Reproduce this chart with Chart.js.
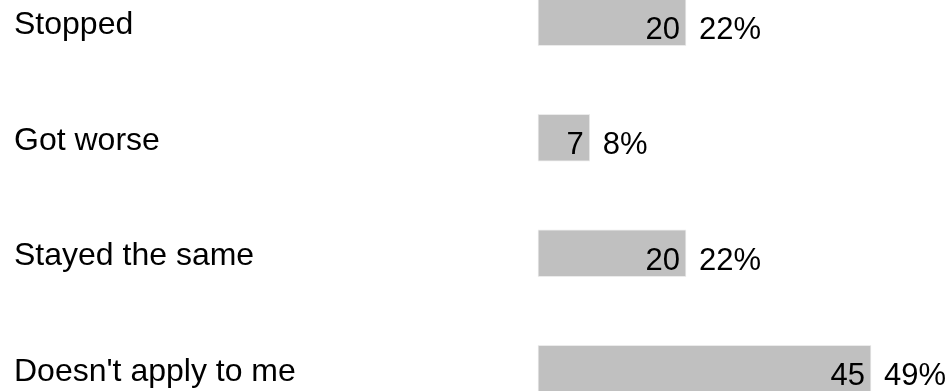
<!DOCTYPE html>
<html>
<head>
<meta charset="utf-8">
<script src="https://cdn.jsdelivr.net/npm/chart.js@4/dist/chart.umd.min.js"></script>
<style>
  html, body { margin: 0; padding: 0; background: #fff; overflow: hidden; }
  #wrap { width: 951px; height: 391px; position: relative; }
</style>
</head>
<body>
<div id="wrap"><canvas id="answers"></canvas></div>
<script>
// values
const categories = ['Stopped', 'Got worse', 'Stayed the same', "Doesn't apply to me"];
const counts = [20, 7, 20, 45];
const shares = ['22%', '8%', '22%', '49%'];

const FONT = '"Liberation Sans", Arial, sans-serif';

// value inside the bar end, share just outside it
const barLabels = {
  id: 'barLabels',
  afterDatasetsDraw(chart) {
    const ctx = chart.ctx;
    const meta = chart.getDatasetMeta(0);
    ctx.save();
    ctx.font = '31px ' + FONT;
    ctx.fillStyle = '#000';
    ctx.textBaseline = 'alphabetic';
    meta.data.forEach((bar, i) => {
      const y = bar.y + 16.5;
      ctx.textAlign = 'right';
      ctx.fillText(String(counts[i]), bar.x - 6, y);
      ctx.textAlign = 'left';
      ctx.fillText(shares[i], bar.x + 13, y);
    });
    ctx.restore();
  }
};

new Chart(document.getElementById('answers'), {
  type: 'bar',
  data: {
    labels: categories,
    datasets: [{
      data: counts,
      backgroundColor: '#c0c0c0',
      borderColor: '#ebebeb',
      borderWidth: 1,
      borderSkipped: false,
      barThickness: 47,
      clip: false
    }]
  },
  options: {
    indexAxis: 'y',
    responsive: true,
    maintainAspectRatio: false,
    animation: false,
    layout: { padding: { left: 14, right: 43, top: 20, bottom: 22 } },
    plugins: {
      legend: { display: false },
      tooltip: { enabled: false },
      title: { display: false }
    },
    scales: {
      x: {
        display: false,
        min: 0,
        max: 50
      },
      y: {
        offset: false,
        grid: { display: false },
        border: { display: false },
        afterFit(scale) { scale.width = 524; },
        ticks: {
          crossAlign: 'far',
          labelOffset: 3,
          color: '#000',
          font: { family: FONT, size: 32 }
        }
      }
    }
  },
  plugins: [barLabels]
});
</script>
</body>
</html>
